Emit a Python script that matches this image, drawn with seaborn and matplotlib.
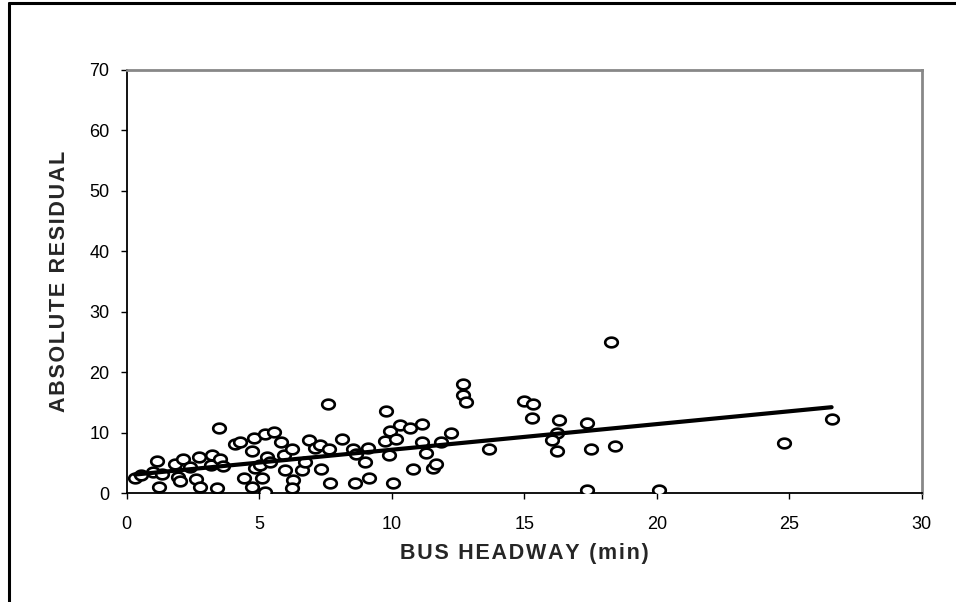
import numpy as np
import pandas as pd
import matplotlib
matplotlib.use("Agg")
import matplotlib.pyplot as plt
import seaborn as sns
from matplotlib.path import Path
from matplotlib.lines import Line2D

# ---- data ----
headway = [0.31, 0.53, 1.00, 1.16, 1.23, 1.32, 1.82, 1.95, 2.00, 2.14,
           2.39, 2.61, 2.77, 2.74, 3.20, 3.17, 3.52, 3.65, 3.48, 3.42,
           4.09, 4.28, 4.43, 4.72, 4.72, 4.82, 4.84, 5.12, 5.22, 5.03,
           5.22, 5.56, 5.28, 5.41, 5.82, 5.97, 5.95, 6.23, 6.29, 6.23,
           6.60, 6.73, 6.89, 7.10, 7.30, 7.65, 7.35, 7.60, 7.67, 8.11,
           8.55, 8.65, 9.00, 9.12, 8.62, 9.15, 9.78, 9.94, 10.30, 9.75,
           9.91, 10.16, 10.69, 11.13, 10.04, 10.82, 11.13, 11.30, 11.57, 11.67,
           11.85, 12.24, 12.70, 12.70, 12.79, 13.67, 15.00, 15.34, 15.30, 16.31,
           16.23, 16.04, 16.25, 17.36, 17.51, 18.43, 17.36, 20.09, 18.27, 24.80,
           26.60]
abs_residual = [2.5, 2.9, 3.5, 5.3, 1.0, 3.1, 4.75, 2.7, 2.0, 5.7,
                4.25, 2.3, 1.0, 6.0, 6.3, 4.6, 5.7, 4.5, 10.7, 0.8,
                8.1, 8.4, 2.4, 7.0, 1.0, 9.05, 4.1, 2.4, 0.2, 4.6,
                9.8, 10.15, 6.0, 5.2, 8.5, 3.8, 6.3, 7.3, 2.15, 0.8,
                3.8, 5.1, 8.8, 7.4, 7.95, 7.3, 4.0, 14.7, 1.6, 8.9,
                7.3, 6.5, 5.2, 7.4, 1.6, 2.4, 13.5, 10.3, 11.25, 8.6,
                6.3, 8.9, 10.7, 11.5, 1.7, 4.0, 8.5, 6.7, 4.1, 4.8,
                8.45, 10.0, 18.0, 16.2, 15.0, 7.2, 15.2, 14.7, 12.4, 12.1,
                10.0, 8.7, 7.0, 11.6, 7.2, 7.8, 0.5, 0.5, 25.05, 8.3,
                12.2]
trend_intercept = 2.92
trend_slope = 0.424
x_ticks = [0, 5, 10, 15, 20, 25, 30]
y_ticks = [0, 10, 20, 30, 40, 50, 60, 70]
x_label = "BUS HEADWAY (min)"
y_label = "ABSOLUTE RESIDUAL"

sns.set_theme(style="white")
plt.rcParams['font.family'] = ['Liberation Sans', 'DejaVu Sans']

W, H = 956, 602
fig = plt.figure(figsize=(W / 100, H / 100), dpi=100)
fig.patch.set_facecolor("white")
left_px, right_px, top_px, bottom_px = 126.7, 921.7, 70.0, 493.0
ax = fig.add_axes([left_px / W, 1 - bottom_px / H,
                   (right_px - left_px) / W, (bottom_px - top_px) / H])

df = pd.DataFrame({"headway": headway, "residual": abs_residual})

t = np.linspace(0, 2 * np.pi, 65)
ellipse = Path(np.column_stack([np.cos(t), 0.77 * np.sin(t)]), closed=True)

sns.scatterplot(data=df, x="headway", y="residual", ax=ax, marker=ellipse,
                s=82, color="white", edgecolor="black", linewidth=1.9,
                zorder=3, legend=False)

xs = np.array([min(headway), max(headway)])
trend = pd.DataFrame({"x": xs, "y": trend_intercept + trend_slope * xs})
sns.lineplot(data=trend, x="x", y="y", ax=ax, color="black", linewidth=3.0,
             zorder=4, legend=False)

ax.set_xlim(0, 30)
ax.set_ylim(0, 70)
ax.set_xticks(x_ticks)
ax.set_yticks(y_ticks)
ax.tick_params(axis="both", which="major", direction="out", length=4.5,
               width=1.0, color="black", labelsize=13, labelcolor="black")
ax.tick_params(axis="x", pad=12)
ax.tick_params(axis="y", pad=8)
ax.xaxis.set_ticks_position("bottom")
ax.yaxis.set_ticks_position("left")

for side in ["left", "bottom"]:
    ax.spines[side].set_color("black")
    ax.spines[side].set_linewidth(1.3)
for side in ["top", "right"]:
    ax.spines[side].set_color("#888888")
    ax.spines[side].set_linewidth(2.0)
ax.grid(False)
ax.set_facecolor("white")

ax.set_xlabel("")
ax.set_ylabel("")
spaced_x = "\u200a".join(x_label)
spaced_y = "\u200a".join(y_label)
fig.text((left_px + right_px) / 2 / W, 1 - 553 / H, spaced_x,
         ha="center", va="center", fontsize=15.5, fontweight="bold",
         family=['Liberation Sans', 'DejaVu Sans'])
fig.text(60 / W, 1 - (top_px + bottom_px) / 2 / H, spaced_y,
         ha="center", va="center", rotation=90, fontsize=15.5, fontweight="bold",
         family=['Liberation Sans', 'DejaVu Sans'])

# outer chart frame (top and left edges visible)
fig.add_artist(Line2D([9 / W, 9 / W], [0, 1 - 3 / H], transform=fig.transFigure,
                      color="black", linewidth=2.2))
fig.add_artist(Line2D([9 / W, 1], [1 - 3 / H, 1 - 3 / H], transform=fig.transFigure,
                      color="black", linewidth=2.2))

fig.savefig("out.png", dpi=100, facecolor="white")
